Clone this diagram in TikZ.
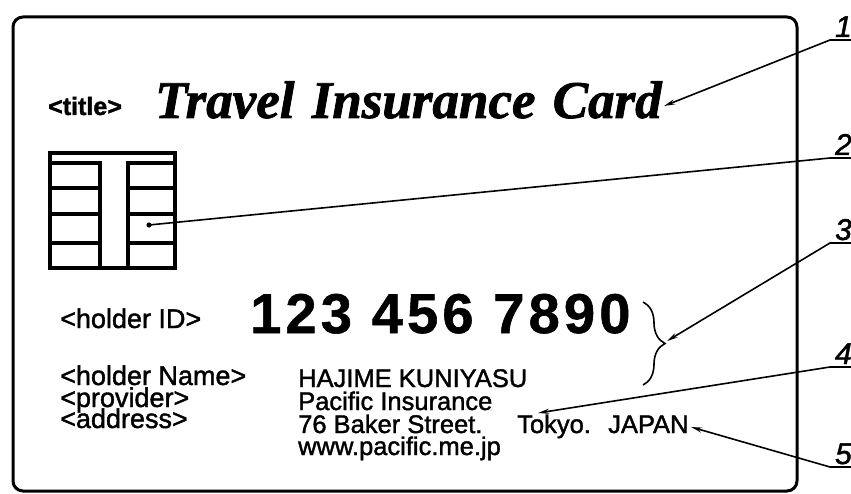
\documentclass[tikz,border=0pt]{standalone}
\usepackage{fontspec}
\setmainfont{Liberation Sans}[FakeBold=1.5]
\newfontfamily\cardserif[WordSpace=1.3,FakeBold=1.5]{Liberation Serif}
\newfontfamily\cardid[LetterSpace=7.5,FakeBold=1]{Liberation Sans}
\usetikzlibrary{arrows.meta,decorations.pathreplacing}

\begin{document}
\begin{tikzpicture}[x=1pt,y=-1pt,>={Stealth[length=11pt,width=5pt]},
	txt/.style={anchor=base west,inner sep=0pt,font=\fontsize{25.5}{25.5}\selectfont},
	tag/.style={txt,font=\fontsize{27}{27}\selectfont},
	num/.style={anchor=base east,inner sep=0pt,font=\itshape\fontsize{30}{30}\selectfont},
	chipline/.style={line width=3.8pt},
	leader/.style={line width=1.6pt}]
		\useasboundingbox (0,0) rectangle (851,494);
		% card outline
		\draw[line width=3pt,rounded corners=10pt] (13,17) rectangle (797,491);
		
		% chip
		\draw[chipline] (50,153) rectangle (175,268);
		\draw[chipline] (50,163) rectangle (100,268);
		\draw[chipline] (128,163) rectangle (175,268);
		\foreach \y in {188,214,243}{
			\draw[chipline] (50,\y)--(100,\y); \draw[chipline] (128,\y)--(175,\y);
		}
		\coordinate (chipdot) at (149,225);
		\fill (chipdot) circle (2.6);
		
		% texts on the card
		\node[txt,font=\bfseries\fontsize{25}{25}\selectfont] (tagtitle) at (48,115) {<title>};
		\node[txt,font=\cardserif\bfseries\itshape\fontsize{53}{53}\selectfont] (title) at (155,118) {Travel Insurance Card};
		\node[tag] (tagid) at (60,328) {<holder ID>};
		\node[txt,font=\cardid\bfseries\fontsize{56}{56}\selectfont] (idnum) at (250,333) {123 456 7890};
		
		\node[tag] (tagname) at (60,385) {<holder Name>};
		\node[tag] (tagprov) at (60,407) {<provider>};
		\node[tag] (tagaddr) at (60,428) {<address>};
		
		\node[txt] (name) at (298,387) {HAJIME KUNIYASU};
		\node[txt] (prov) at (298,410) {Pacific Insurance};
		\node[txt] (addr) at (298,433) {76 Baker Street.};
		\node[txt] (city) at (517,433) {Tokyo.};
		\node[txt] (country) at (608,433) {JAPAN};
		\node[txt] (web) at (298,455) {www.pacific.me.jp};
		
		% brace round the number and name
		\draw[leader,decorate,decoration={brace,amplitude=22pt}] (643,302)--(643,385);
		\coordinate (bracetip) at (667,341);
		
		% leaders with numbers
		\coordinate (u1) at (830,40); \coordinate (e1) at (851,40);
		\coordinate (u2) at (830,158); \coordinate (e2) at (851,158);
		\coordinate (u3) at (830,243); \coordinate (e3) at (851,243);
		\coordinate (u4) at (830,367); \coordinate (e4) at (851,367);
		\coordinate (u5) at (830,467); \coordinate (e5) at (851,467);
		\coordinate (t1) at (664,106);
		\coordinate (t4) at (538,413);
		\coordinate (t5) at (691,427);
		
		\draw[leader,->] (e1)--(u1)--(t1);
		\draw[leader] (e2)--(u2)--(chipdot);
		\draw[leader,->] (e3)--(u3)--(bracetip);
		\draw[leader,->] (e4)--(u4)--(t4);
		\draw[leader,->] (e5)--(u5)--(t5);
		
		\node[num] (n1) at (852,37) {1};
		\node[num] (n2) at (852,155) {2};
		\node[num] (n3) at (852,240) {3};
		\node[num] (n4) at (852,364) {4};
		\node[num] (n5) at (852,464) {5};
	\end{tikzpicture}
\end{document}
